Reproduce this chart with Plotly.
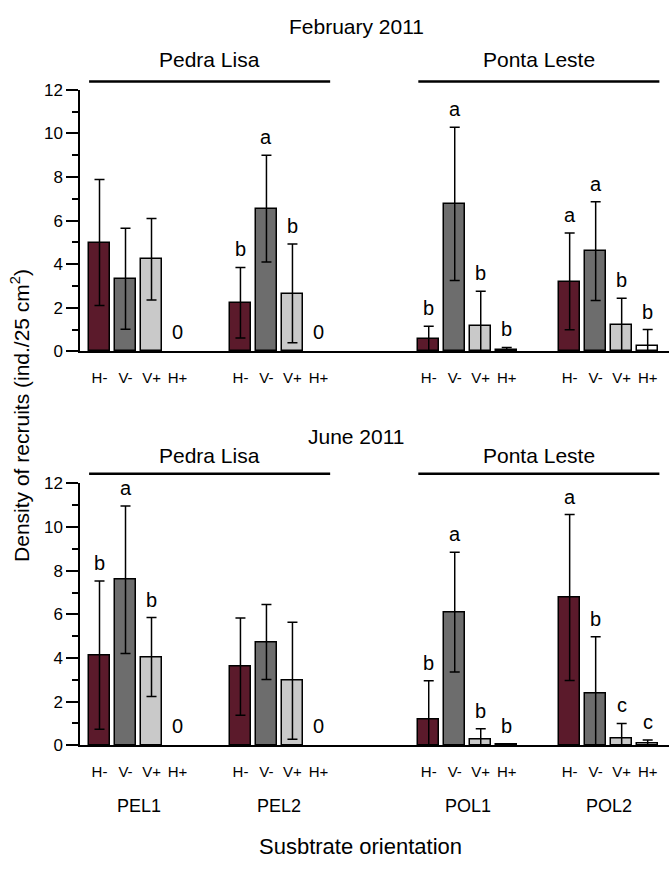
import plotly.graph_objects as go

# ---------------- data ----------------
orientations = ["H-", "V-", "V+", "H+"]
sites = ["PEL1", "PEL2", "POL1", "POL2"]
locations = ["Pedra Lisa", "Ponta Leste"]
months = ["February 2011", "June 2011"]

# February 2011 means / SD (per site, orientations H-, V-, V+, H+)
feb_mean = {
    "PEL1": [5.0, 3.33, 4.23, 0.0],
    "PEL2": [2.23, 6.55, 2.66, 0.0],
    "POL1": [0.57, 6.77, 1.17, 0.06],
    "POL2": [3.21, 4.60, 1.21, 0.24],
}
feb_sd = {
    "PEL1": [2.89, 2.32, 1.87, 0.0],
    "PEL2": [1.62, 2.45, 2.27, 0.0],
    "POL1": [0.58, 3.52, 1.59, 0.12],
    "POL2": [2.22, 2.27, 1.23, 0.76],
}
feb_letters = {
    "PEL1": ["", "", "", "0"],
    "PEL2": ["b", "a", "b", "0"],
    "POL1": ["b", "a", "b", "b"],
    "POL2": ["a", "a", "b", "b"],
}

# June 2011
jun_mean = {
    "PEL1": [4.13, 7.58, 4.04, 0.0],
    "PEL2": [3.60, 4.73, 2.96, 0.0],
    "POL1": [1.17, 6.10, 0.27, 0.03],
    "POL2": [6.77, 2.39, 0.33, 0.07],
}
jun_sd = {
    "PEL1": [3.40, 3.38, 1.81, 0.0],
    "PEL2": [2.23, 1.72, 2.68, 0.0],
    "POL1": [1.79, 2.74, 0.49, 0.03],
    "POL2": [3.80, 2.58, 0.67, 0.17],
}
jun_letters = {
    "PEL1": ["b", "a", "b", "0"],
    "PEL2": ["", "", "", "0"],
    "POL1": ["b", "a", "b", "b"],
    "POL2": ["a", "b", "c", "c"],
}

# ---------------- layout constants ----------------
W, H = 669, 870
ML = 80
PW = W - ML
group_start = [0.0, 5.42, 12.66, 18.08]   # slot positions of each site group
x_range = [-0.75, 21.9]
colors = ["#5b1a2b", "#6d6d6d", "#c9c9c9", "#ffffff"]
FONT = "Arial, Liberation Sans, sans-serif"

def py(px):  # pixel from top -> paper y
    return (H - px) / H

def pxx(px):  # pixel from left -> paper x
    return (px - ML) / PW

top_dom = [py(350), py(82.7)]
bot_dom = [py(752.7), py(485)]

fig = go.Figure()

panels = [
    (feb_mean, feb_sd, feb_letters, "x", "y"),
    (jun_mean, jun_sd, jun_letters, "x2", "y2"),
]

annotations = []
for mean, sd, letters, xa, ya in panels:
    for oi, ori in enumerate(orientations):
        xs, ys, es = [], [], []
        for si, s in enumerate(sites):
            m, e = mean[s][oi], sd[s][oi]
            xs.append(group_start[si] + oi)
            ys.append(m if (m > 0 or e > 0) else None)
            es.append(e)
        fig.add_trace(go.Bar(
            x=xs, y=ys, width=0.8, xaxis=xa, yaxis=ya,
            marker=dict(color=colors[oi], line=dict(color="black", width=1.5)),
            error_y=dict(type="data", array=es, arrayminus=es, symmetric=False,
                         color="black", thickness=1.5, width=5, visible=True),
            showlegend=False, name=ori,
        ))
    for si, s in enumerate(sites):
        for oi in range(4):
            lab = letters[s][oi]
            if not lab:
                continue
            top = mean[s][oi] + sd[s][oi]
            annotations.append(dict(
                x=group_start[si] + oi, y=top, xref=xa, yref=ya,
                text=lab, showarrow=False, yanchor="middle",
                yshift=18 if lab != "0" else 19,
                font=dict(family=FONT, size=20, color="black"),
            ))

tickvals = [group_start[si] + oi for si in range(4) for oi in range(4)]
ticktext = [orientations[oi] for si in range(4) for oi in range(4)]

xaxis_common = dict(
    range=x_range, showline=True, linecolor="black", linewidth=1.5,
    tickvals=tickvals, ticktext=ticktext, ticks="", showgrid=False,
    zeroline=False, tickfont=dict(family=FONT, size=15, color="black"),
    ticklabelstandoff=12, fixedrange=True,
)
yaxis_common = dict(
    range=[0, 12], showline=True, linecolor="black", linewidth=1.5,
    tickmode="linear", tick0=0, dtick=2, ticks="outside", ticklen=12, tickwidth=1.5,
    tickcolor="black", showgrid=False, zeroline=False,
    tickfont=dict(family=FONT, size=17, color="black"),
    minor=dict(dtick=1, tick0=0, ticks="outside", ticklen=6, tickwidth=1.5,
               tickcolor="black", showgrid=False),
    fixedrange=True,
)

fig.update_layout(
    width=W, height=H,
    margin=dict(l=ML, r=0, t=0, b=0),
    plot_bgcolor="white", paper_bgcolor="white",
    bargap=0, barmode="overlay",
    xaxis=dict(**xaxis_common, domain=[0, 1], anchor="y"),
    yaxis=dict(**yaxis_common, domain=top_dom, anchor="x"),
    xaxis2=dict(**xaxis_common, domain=[0, 1], anchor="y2"),
    yaxis2=dict(**yaxis_common, domain=bot_dom, anchor="x2"),
)

shapes = []
loc_groups = [(0, 1), (2, 3)]
for mi, (xa, line_px, label_px, title_px) in enumerate([("x", 74, 52, 18), ("x2", 475, 456, 437)]):
    for li, (g0, g1) in enumerate(loc_groups):
        x0 = group_start[g0] - 0.4
        x1 = group_start[g1] + 3 + 0.45
        shapes.append(dict(type="line", xref=xa, yref="paper",
                           x0=x0, x1=x1, y0=py(line_px), y1=py(line_px),
                           line=dict(color="black", width=2.5)))
        annotations.append(dict(x=(x0 + x1) / 2, y=py(label_px), xref=xa, yref="paper",
                                text=locations[li], showarrow=False, yanchor="middle",
                                font=dict(family=FONT, size=21, color="black")))
    annotations.append(dict(x=pxx(356), y=py(title_px), xref="paper", yref="paper",
                            text=months[mi], showarrow=False, yanchor="middle",
                            xanchor="center",
                            font=dict(family=FONT, size=21, color="black")))

for si, s in enumerate(sites):
    annotations.append(dict(x=group_start[si] + 1.5, y=py(815), xref="x2", yref="paper",
                            text=s, showarrow=False, yanchor="middle",
                            font=dict(family=FONT, size=18, color="black")))

annotations.append(dict(x=pxx(360), y=py(856), xref="paper", yref="paper",
                        text="Susbtrate orientation", showarrow=False, yanchor="middle",
                        xanchor="center",
                        font=dict(family=FONT, size=22, color="black")))
annotations.append(dict(x=pxx(20), y=py(416), xref="paper", yref="paper",
                        text="Density of recruits (ind./25 cm<sup>2</sup>)",
                        showarrow=False, textangle=-90, xanchor="center", yanchor="middle",
                        font=dict(family=FONT, size=21, color="black")))

fig.update_layout(shapes=shapes, annotations=annotations)
fig.write_html("out.html")
